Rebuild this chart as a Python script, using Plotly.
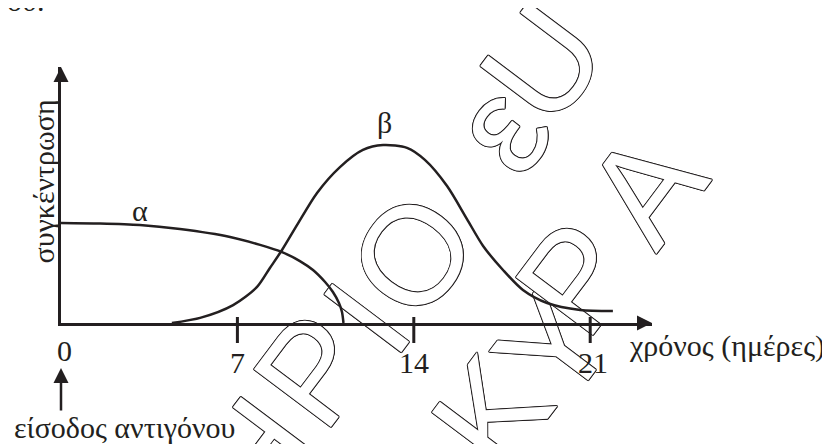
import plotly.graph_objects as go

# curve α: days after antigen entry / concentration (arbitrary units)
DAYS_A = [0, 1.55, 3.13, 4.72, 6.71, 7.90, 8.77, 9.48, 10.0, 10.48, 10.79, 11.03, 11.15, 11.21]
CONC_A = [3.91, 3.89, 3.83, 3.67, 3.36, 3.05, 2.77, 2.42, 2.07, 1.60, 1.21, 0.78, 0.43, 0.0]

# curve β
DAYS_B = [4.40, 5.52, 6.83, 7.78, 8.29, 8.77, 9.37, 10.16, 11.07, 11.98, 12.78, 13.73,
          14.44, 15.32, 16.11, 16.75, 17.54, 18.33, 19.29, 20.60, 21.90]
CONC_B = [0, 0.20, 0.70, 1.41, 2.15, 2.85, 3.83, 5.08, 6.09, 6.76, 6.95, 6.84,
          6.37, 5.35, 4.06, 3.01, 2.07, 1.29, 0.78, 0.51, 0.47]

TICK_DAYS = [0, 7, 14, 21]
TICK_TEXT = ["0", "7", "14", "21"]

W, H = 830, 444
OFF = 8  # page body margin
PX0, PY0, PX1, PY1 = 61, 323, 652, 67  # axis origin / arrow tips in page pixels
L, T = PX0 - OFF, PY1 - OFF
R, B = W - (PX1 - OFF), H - (PY0 - OFF)
X_MAX = (PX1 - PX0) / 25.2
Y_MAX = (PY0 - PY1) / 25.6

INK = "#231f20"
SERIF = "Liberation Serif, Times New Roman, serif"
FS = 30
OUTLINE = ", ".join(f"{dx}px {dy}px 0 {INK}" for dx, dy in
                    [(1, 0), (-1, 0), (0, 1), (0, -1), (0.7, 0.7), (-0.7, 0.7), (0.7, -0.7), (-0.7, -0.7)])

# outlined watermark letters (pixel centres)
WATERMARK = [("Η", 245, 449), ("Ρ", 303, 362), ("Ι", 356, 310), ("Ο", 402, 247),
             ("ε", 490, 120), ("U", 532, 55),
             ("Κ", 481, 405), ("Υ", 543, 338), ("Ρ", 565, 270), ("Α", 635, 180)]


def paper(px, py):
    return (px - PX0) / (PX1 - PX0), (PY0 - py) / (PY0 - PY1)


fig = go.Figure()

fig.add_trace(go.Scatter(x=DAYS_A, y=CONC_A, mode="lines", name="α",
                         line=dict(color=INK, width=2.5, shape="spline", smoothing=0.8)))
fig.add_trace(go.Scatter(x=DAYS_B, y=CONC_B, mode="lines", name="β",
                         line=dict(color=INK, width=2.5, shape="spline", smoothing=0.8)))

# axis arrow heads
fig.add_trace(go.Scatter(x=[0, X_MAX], y=[Y_MAX, 0], mode="markers", cliponaxis=False,
                         marker=dict(symbol=["arrow-up", "arrow-right"], size=15, color=INK)))

# antigen entry arrow
fig.add_annotation(x=0, xref="x", y=paper(0, 368)[1], yref="paper", ax=0, ay=44, text="",
                   showarrow=True, arrowhead=2, arrowsize=1.2, arrowwidth=2.5, arrowcolor=INK,
                   standoff=0)

# ticks crossing the axis
y_lo = paper(0, 343)[1]
y_hi = paper(0, 317)[1]
for d in TICK_DAYS[1:]:
    fig.add_shape(type="line", xref="x", yref="paper", x0=d, x1=d, y0=y_lo, y1=y_hi,
                  line=dict(color=INK, width=3))

for d, t in zip(TICK_DAYS, TICK_TEXT):
    fig.add_annotation(x=d, y=0, xref="x", yref="y", text=t, showarrow=False,
                       xanchor="center", yanchor="middle",
                       yshift=-27.5 if d == 0 else -39.5, xshift=3 if d in (0, 21) else 0,
                       font=dict(family=SERIF, size=FS, color=INK))

for ch, px, py in WATERMARK:
    xp, yp = paper(px, py)
    fig.add_shape(type="line", xref="paper", yref="paper", x0=xp, x1=xp + 0.0001, y0=yp, y1=yp,
                  layer="below", line=dict(color="rgba(0,0,0,0)", width=1),
                  label=dict(text=ch, textangle=-53, textposition="middle",
                             xanchor="center", yanchor="middle", padding=0,
                             font=dict(family="Liberation Sans, Arial, sans-serif", size=140,
                                       color="white", shadow=OUTLINE)))


def label(text, px, py, xanchor="center", size=FS, **kw):
    xp, yp = paper(px, py)
    fig.add_annotation(x=xp, y=yp, xref="paper", yref="paper", text=text, showarrow=False,
                       xanchor=xanchor, yanchor="middle",
                       font=dict(family=SERIF, size=size, color=INK), **kw)


label("χρόνος (ημέρες)", 627, 346, xanchor="left")
label("συγκέντρωση", 42.5, 182, textangle=-90)
label("είσοδος αντιγόνου", 12, 427.5, xanchor="left")
label("α", 140, 210.5)
label("β", 384, 122)
label("ιου.", 21.5, 0.5)

fig.update_xaxes(range=[0, X_MAX], showline=True, linewidth=2.5, linecolor=INK,
                 showgrid=False, zeroline=False, showticklabels=False, ticks="")
fig.update_yaxes(range=[0, Y_MAX], showline=True, linewidth=2.5, linecolor=INK,
                 showgrid=False, zeroline=False, showticklabels=False, ticks="")
fig.update_layout(width=W, height=H, margin=dict(l=L, r=R, t=T, b=B),
                  paper_bgcolor="white", plot_bgcolor="rgba(0,0,0,0)", showlegend=False)

fig.write_html("out.html")
